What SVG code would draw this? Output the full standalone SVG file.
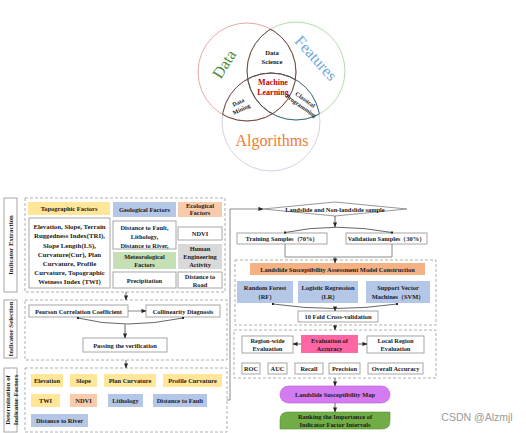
<svg xmlns="http://www.w3.org/2000/svg" width="526" height="433" viewBox="0 0 526 433">
<style>
text{font-family:"Liberation Serif","Times New Roman",serif;font-weight:bold;fill:#1a1a1a;text-anchor:middle;dominant-baseline:central}
.t{font-size:6.8px}
.s{font-size:6.4px}
.box{fill:#fff;stroke:#a6a6a6;stroke-width:1}
.dash{fill:none;stroke:#a6a6a6;stroke-width:0.9;stroke-dasharray:3 2}
.lab{fill:#fff;stroke:#a6a6a6;stroke-width:1}
.yel{fill:#ffe699}
.blu{fill:#b4c7e7}
.org{fill:#f8cbad}
.grn{fill:#c5e0b4}
.gry{fill:#d9d9d9}
.ln{fill:none;stroke:#7f7f7f;stroke-width:0.9}
.lnk{fill:none;stroke:#404040;stroke-width:0.8}
.vt{font-weight:normal}
</style>
<defs>
<marker id="ah" viewBox="0 0 6 6" refX="5.5" refY="3" markerWidth="5" markerHeight="5" orient="auto" markerUnits="userSpaceOnUse">
<path d="M0,0.5 L6,3 L0,5.5 Z" fill="#262626"/>
</marker>
<marker id="dot" viewBox="0 0 4 4" refX="2" refY="2" markerWidth="2.5" markerHeight="2.5" markerUnits="userSpaceOnUse">
<circle cx="2" cy="2" r="2" fill="#262626"/>
</marker>
<clipPath id="cFA"><circle cx="296" cy="71" r="49"/><circle cx="271" cy="122" r="49"/></clipPath>
<clipPath id="cD"><circle cx="247" cy="72" r="49"/></clipPath>
<clipPath id="cF"><circle cx="296" cy="71" r="49"/></clipPath>
<clipPath id="cA"><circle cx="271" cy="122" r="49"/></clipPath>
</defs>

<g id="venn">
<circle cx="247" cy="72" r="49" fill="none" stroke="#e6a8a2" stroke-width="1"/>
<circle cx="296" cy="71" r="49" fill="none" stroke="#b2dcaa" stroke-width="1"/>
<circle cx="271" cy="122" r="49" fill="none" stroke="#d2d2e2" stroke-width="1"/>
<circle cx="247" cy="72" r="49" fill="none" stroke="#6e4a42" stroke-width="1" clip-path="url(#cFA)"/>
<circle cx="296" cy="71" r="49" fill="none" stroke="#3f6c7c" stroke-width="1" clip-path="url(#cA)"/>
<circle cx="296" cy="71" r="49" fill="none" stroke="#6e4a42" stroke-width="1" clip-path="url(#cD)"/>
<circle cx="271" cy="122" r="49" fill="none" stroke="#3f6c7c" stroke-width="1" clip-path="url(#cF)"/>
<circle cx="271" cy="122" r="49" fill="none" stroke="#6e4a42" stroke-width="1" clip-path="url(#cD)"/>
<text class="vt" x="224" y="64" font-size="16" style="fill:#4a8c3c" transform="rotate(-58 224 64)">Data</text>
<text class="vt" x="316" y="58" font-size="16" style="fill:#6fa8dc" transform="rotate(48 316 58)">Features</text>
<text class="vt" x="272" y="140" font-size="16" style="fill:#ed7d31">Algorithms</text>
<text x="272" y="52" font-size="6.6">Data</text>
<text x="272" y="61" font-size="6.6">Science</text>
<text x="273" y="82" font-size="8" style="fill:#c00000">Machine</text>
<text x="273" y="92" font-size="8" style="fill:#c00000">Learning</text>
<g transform="rotate(-25 240 106)"><text x="240" y="102" font-size="6">Data</text><text x="240" y="109.5" font-size="6">Mining</text></g>
<g transform="rotate(35 303 103)"><text x="303" y="99" font-size="6">Classical</text><text x="303" y="106.5" font-size="6">Programming</text></g>
</g>

<g id="extraction">
<rect class="lab" x="4" y="198" width="13" height="94"/>
<text class="t" x="10.5" y="245" transform="rotate(-90 10.5 245)">Indicator Extraction</text>
<rect class="dash" x="25" y="198" width="200" height="94"/>
<g id="topo-title"><rect class="yel" x="28" y="202" width="82" height="13"/><text class="s" x="69" y="208.5">Topographic Factors</text></g>
<g id="topo-list"><rect class="box" x="29" y="218" width="81" height="70"/>
<text class="t" x="69.5" y="226.7">Elevation, Slope, Terrain</text>
<text class="t" x="69.5" y="235.7">Ruggedness Index(TRI),</text>
<text class="t" x="69.5" y="245">Slope Length(LS),</text>
<text class="t" x="69.5" y="254.3">Curvature(Cur), Plan</text>
<text class="t" x="69.5" y="263.7">Curvature, Profile</text>
<text class="t" x="69.5" y="272.7">Curvature, Topographic</text>
<text class="t" x="69.5" y="281.7">Wetness Index (TWI)</text></g>
<g id="geo-title"><rect class="blu" x="113" y="202" width="63" height="15"/><text class="s" x="144.5" y="209.5">Geological Factors</text></g>
<g id="eco-title"><rect class="org" x="178" y="202" width="44" height="15"/><text class="s" x="200" y="205.3">Ecological</text><text class="s" x="200" y="212.6">Factors</text></g>
<g id="geo-list"><rect class="box" x="113" y="221" width="63" height="28"/>
<text class="s" x="144.5" y="227.5">Distance to Fault,</text>
<text class="s" x="144.5" y="236.5">Lithology,</text>
<text class="s" x="144.5" y="245.5">Distance to River,</text></g>
<g id="ndvi"><rect class="box" x="178" y="227" width="44" height="13"/><text class="s" x="200" y="233.5">NDVI</text></g>
<g id="met-title"><rect class="grn" x="113" y="252" width="63" height="17"/><text class="s" x="144.5" y="256.7">Meteorological</text><text class="s" x="144.5" y="264.3">Factors</text></g>
<g id="human-title"><rect class="gry" x="178" y="244" width="44" height="25"/><text class="s" x="200" y="248.3">Human</text><text class="s" x="200" y="256.6">Engineering</text><text class="s" x="200" y="264.9">Activity</text></g>
<g id="precip"><rect class="box" x="113" y="272" width="63" height="16"/><text class="s" x="144.5" y="280">Precipitation</text></g>
<g id="road"><rect class="box" x="178" y="272" width="44" height="16"/><text class="s" x="200" y="276.5">Distance to</text><text class="s" x="200" y="284.8">Road</text></g>
</g>

<g id="selection">
<rect class="lab" x="4" y="300" width="13" height="58"/>
<text class="t" x="10.5" y="329" transform="rotate(-90 10.5 329)">Indicator Selection</text>
<rect class="dash" x="25" y="300" width="202" height="60"/>
<g id="pearson"><rect class="box" x="29" y="305" width="99" height="12"/><text class="s" x="78.5" y="311">Pearson Correlation Coefficient</text></g>
<g id="collin"><rect class="box" x="146" y="305" width="74" height="12"/><text class="s" x="183" y="311">Collinearity Diagnosis</text></g>
<g id="passing"><rect class="box" x="83" y="338" width="84" height="14"/><text class="s" x="125" y="345">Passing the verification</text></g>
</g>

<g id="determination">
<rect class="lab" x="4" y="368" width="13" height="64"/>
<g transform="rotate(-90 10.5 400)"><text class="t" x="10.5" y="397">Determination of</text><text class="t" x="10.5" y="404.5">Indicator Factors</text></g>
<rect class="dash" x="25" y="368" width="202" height="64"/>
<g id="f-elev"><rect class="yel" x="31" y="374" width="32" height="13"/><text class="s" x="47" y="380.5">Elevation</text></g>
<g id="f-slope"><rect class="yel" x="70" y="374" width="27" height="13"/><text class="s" x="83.5" y="380.5">Slope</text></g>
<g id="f-plan"><rect class="yel" x="104" y="374" width="52" height="13"/><text class="s" x="130" y="380.5">Plan Curvature</text></g>
<g id="f-prof"><rect class="yel" x="163" y="374" width="59" height="13"/><text class="s" x="192.5" y="380.5">Profile Curvature</text></g>
<g id="f-twi"><rect class="yel" x="31" y="394" width="29" height="13"/><text class="s" x="45.5" y="400.5">TWI</text></g>
<g id="f-ndvi"><rect class="org" x="70" y="394" width="27" height="13"/><text class="s" x="83.5" y="400.5">NDVI</text></g>
<g id="f-lith"><rect class="blu" x="108" y="394" width="35" height="13"/><text class="s" x="125.5" y="400.5">Lithology</text></g>
<g id="f-fault"><rect class="blu" x="153" y="394" width="54" height="13"/><text class="s" x="180" y="400.5">Distance to Fault</text></g>
<g id="f-river"><rect class="blu" x="31" y="414" width="57" height="13"/><text class="s" x="59.5" y="420.5">Distance to River</text></g>
</g>

<g id="right">
<g id="sample"><polygon points="263,209 335,202 407,209 335,216" fill="#fff" stroke="#8c8c8c" stroke-width="0.9"/><text class="s" x="335" y="209">Landslide and Non-landslide sample</text></g>
<g id="train"><rect class="box" x="237" y="233" width="90" height="11"/><text class="s" x="282" y="238.5">Training Samples（70%）</text></g>
<g id="valid"><rect class="box" x="346" y="233" width="81" height="11"/><text class="s" x="386.5" y="238.5">Validation Samples（30%）</text></g>
<rect class="dash" x="235" y="260" width="201" height="65"/>
<g id="model-title"><rect x="250" y="263" width="175" height="12" fill="#f4b183"/><text class="s" x="337.5" y="269">Landslide Susceptibility Assessment Model Construction</text></g>
<g id="rf"><rect class="blu" x="237" y="281" width="56" height="22"/><text class="s" x="265" y="287.5">Random Forest</text><text class="s" x="265" y="296.5">（RF）</text></g>
<g id="lr"><rect class="blu" x="298" y="281" width="60" height="22"/><text class="s" x="328" y="287.5">Logistic Regression</text><text class="s" x="328" y="296.5">（LR）</text></g>
<g id="svm"><rect class="blu" x="366" y="281" width="64" height="22"/><text class="s" x="398" y="287.5">Support Vector</text><text class="s" x="398" y="296.5">Machines（SVM）</text></g>
<g id="cv"><rect class="box" x="298" y="311" width="80" height="11"/><text class="s" x="338" y="316.5">10 Fold Cross-validation</text></g>
<rect class="dash" x="234" y="330" width="202" height="48"/>
<g id="region"><rect class="box" x="242" y="336" width="51" height="17"/><text class="s" x="267.5" y="340.5">Region-wide</text><text class="s" x="267.5" y="348.5">Evaluation</text></g>
<g id="acc"><rect x="301" y="335" width="57" height="18" fill="#ff66a3"/><text class="s" x="329.5" y="340">Evaluation of</text><text class="s" x="329.5" y="348.5">Accuracy</text></g>
<g id="local"><rect class="box" x="367" y="336" width="57" height="17"/><text class="s" x="395.5" y="340.5">Local Region</text><text class="s" x="395.5" y="348.5">Evaluation</text></g>
<g id="roc"><rect class="box" x="242" y="363" width="18" height="11"/><text class="s" x="251" y="368.5">ROC</text></g>
<g id="auc"><rect class="box" x="268" y="363" width="19" height="11"/><text class="s" x="277.5" y="368.5">AUC</text></g>
<g id="recall"><rect class="box" x="295" y="363" width="28" height="11"/><text class="s" x="309" y="368.5">Recall</text></g>
<g id="precision"><rect class="box" x="329" y="363" width="31" height="11"/><text class="s" x="344.5" y="368.5">Precision</text></g>
<g id="overall"><rect class="box" x="368" y="363" width="55" height="11"/><text class="s" x="395.5" y="368.5">Overall Accuracy</text></g>
<g id="map"><rect x="280" y="386" width="110" height="17" rx="8.5" fill="#d57bf2" stroke="#b65ad4" stroke-width="0.6"/><text class="s" x="335" y="394.5">Landslide Susceptibility Map</text></g>
<g id="rank"><path d="M288,412 H390 V421 Q390,429 382,429 H280 V420 Q280,412 288,412 Z" fill="#70ad47" stroke="#5a9038" stroke-width="0.6"/><text class="s" x="335" y="416.5">Ranking the Importance of</text><text class="s" x="335" y="424.5">Indicator Factor Intervals</text></g>
</g>

<g id="connectors">
<line class="lnk" x1="126" y1="292" x2="126" y2="300" marker-end="url(#ah)"/>
<line class="ln" x1="128" y1="311" x2="146" y2="311" marker-end="url(#ah)"/>
<path class="lnk" d="M78,318 Q125,330 183,318" marker-start="url(#dot)" marker-end="url(#dot)"/>
<line class="lnk" x1="125" y1="324.5" x2="125" y2="338" marker-end="url(#ah)"/>
<line class="lnk" x1="126" y1="360" x2="126" y2="368" marker-end="url(#ah)"/>
<path class="ln" d="M227,400 H230 V209 H263" marker-end="url(#ah)"/>
<line class="lnk" x1="335" y1="216" x2="335" y2="227" marker-end="url(#ah)"/>
<path class="lnk" d="M285,232.5 Q335,222 392,232.5" marker-start="url(#dot)" marker-end="url(#dot)"/>
<path class="ln" d="M285,244 V257 H392 V244"/>
<line class="lnk" x1="335" y1="257" x2="335" y2="263" marker-end="url(#ah)"/>
<path class="lnk" d="M273,304 Q335,313 397,304" marker-start="url(#dot)" marker-end="url(#dot)"/>
<line class="lnk" x1="335" y1="308" x2="335" y2="311" marker-end="url(#ah)"/>
<line class="lnk" x1="335" y1="325" x2="335" y2="330" marker-end="url(#ah)"/>
<line class="lnk" x1="301" y1="344" x2="293" y2="344" marker-end="url(#ah)"/>
<line class="lnk" x1="358" y1="344" x2="367" y2="344" marker-end="url(#ah)"/>
<line class="lnk" x1="335" y1="378" x2="335" y2="386" marker-end="url(#ah)"/>
<line class="lnk" x1="335" y1="403" x2="335" y2="412" marker-end="url(#ah)"/>
</g>

<text x="477" y="416.5" font-size="10.5" style="font-family:'Liberation Sans',Arial,sans-serif;font-weight:normal;fill:#9a9a9a">CSDN @Alzmjl</text>
</svg>
